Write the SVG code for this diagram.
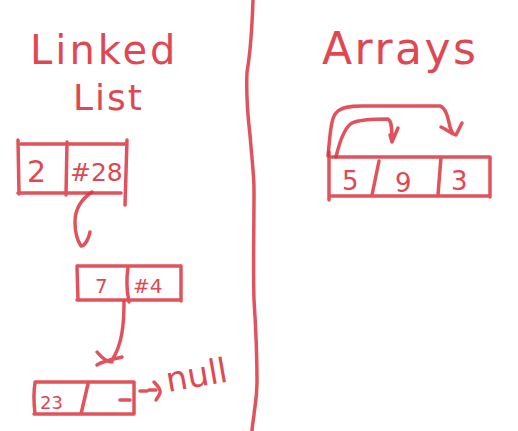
<svg xmlns="http://www.w3.org/2000/svg" width="518" height="431" viewBox="0 0 518 431">
<style>
.s{fill:none;stroke:#dc3540;stroke-width:3.5;stroke-linecap:round;stroke-linejoin:round;opacity:0.85}
.t{fill:#dc3540;font-family:"DejaVu Sans","Liberation Sans",sans-serif;opacity:0.9}
</style>
<rect width="518" height="431" fill="#ffffff"/>
<g id="divider">
<path class="s" d="M253,0 C252,30 250,55 247,72 C246,95 248,118 250,135 C252,160 254,175 254,190 C254,230 253,270 254,300 C256,330 257,360 257,382 C257,400 254,410 254,415 C253,422 252,428 252,431"/>
</g>
<g id="title-linked">
<text class="t" x="30" y="64" font-size="40" letter-spacing="3">Linked</text>
<text class="t" x="73" y="110" font-size="36" letter-spacing="2">List</text>
</g>
<g id="title-arrays">
<text class="t" x="322" y="64" font-size="44" letter-spacing="2.5">Arrays</text>
</g>
<g id="node1">
<path class="s" d="M18,140 L19,194 M21,144 L126,144 M18,193 L121,193 M127,140 L125,205 M67,142 L66,195"/>
<text class="t" x="27" y="182" font-size="30">2</text>
<text class="t" x="70" y="181" font-size="25">#28</text>
</g>
<g id="node2">
<path class="s" d="M78,266 L180,266 M77,266 L78,300 M77,300 L181,300 M181,266 L181,301 M128,268 C126,280 127,292 129,302"/>
<text class="t" x="95" y="293" font-size="20">7</text>
<text class="t" x="133" y="293" font-size="20">#4</text>
</g>
<g id="node3">
<path class="s" d="M35,382 L134,382 M35,383 C33,395 34,405 35,414 M34,414 L133,414 M134,382 L134,414 M88,384 L81,414 M120,400 L130,400"/>
<text class="t" x="40" y="409" font-size="18">23</text>
</g>
<g id="null-label">
<text class="t" x="168" y="392" font-size="34" transform="rotate(-10 168 392)">null</text>
</g>
<g id="array">
<path class="s" d="M329,152 L329,200 M330,157 L490,157 M330,196 L490,196 M490,157 L490,197 M379,161 L372,195 M441,157 L438,195"/>
<text class="t" x="342" y="190" font-size="26">5</text>
<text class="t" x="395" y="192" font-size="26">9</text>
<text class="t" x="451" y="190" font-size="26">3</text>
</g>
<g id="connectors">
<path class="s" d="M92,192 C80,200 75,210 75,222 C75,232 77,240 81,246 M81,246 C85,246 89,238 90,232"/>
<path class="s" d="M124,302 C124,325 122,345 112,360 M97,352 C102,358 107,362 112,362 M97,365 C105,360 115,359 122,357"/>
<path class="s" d="M140,391 L147,391 M149,390 L156,390 M154,382 C158,386 161,390 160,393 C159,396 157,398 156,400"/>
<path class="s" d="M328,156 C330,135 331,118 336,113 C341,107 350,106 362,106 L440,106 C446,108 448,118 450,127 C452,133 454,135 456,135 M441,127 C447,130 452,134 456,135 L462,123"/>
<path class="s" d="M336,157 C340,140 345,127 352,123 C358,120 370,119 388,119 C392,121 392,130 392,142 M392,142 L398,128 M390,135 L392,142"/>
</g>
</svg>
